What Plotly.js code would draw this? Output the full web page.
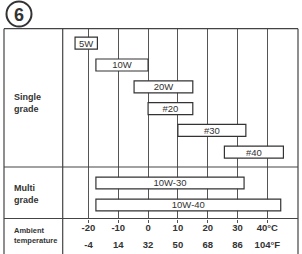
<!DOCTYPE html>
<html>
<head>
<meta charset="utf-8">
<script src="https://cdn.plot.ly/plotly-3.0.1.min.js"></script>
<style>html,body{margin:0;padding:0;background:#fff;}#chart{width:302px;height:254px;}</style>
</head>
<body>
<div id="chart"></div>
<script>
// ---- data ----
const singleGrades = ['5W', '10W', '20W', '#20', '#30', '#40'];
const singleStart  = [-24.5, -17.5, -4.7, 0, 10, 25.6];
const singleEnd    = [-17, 0, 15, 15, 32.8, 45.4];

const multiGrades = ['10W-30', '10W-40'];
const multiStart  = [-17.5, -17.5];
const multiEnd    = [32.2, 44.5];

const tempC      = [-20, -10, 0, 10, 20, 30, 40];
const tempCLabel = ['-20', '-10', '0', '10', '20', '30', '40°C'];
const tempFLabel = ['-4', '14', '32', '50', '68', '86', '104°F'];

const rowLabels = ['Single<br>grade', 'Multi<br>grade', 'Ambient<br>temperature'];
const badge = '6';

// ---- helpers ----
const W = 302, H = 254, ML = 4, MR = 4;
const px2x = p => (p - ML) / (W - ML - MR);
const px2y = p => 1 - p / H;

const ink = '#333';
const lineC = '#444';
const fontFam = 'Liberation Sans, Arial, sans-serif';

const diff = (a, b) => a.map((v, i) => b[i] - v);

const traces = [
  {
    type: 'bar', orientation: 'h',
    y: singleGrades, base: singleStart, x: diff(singleStart, singleEnd),
    text: singleGrades, textposition: 'inside', insidetextanchor: 'middle',
    constraintext: 'none', textangle: 0,
    textfont: {family: fontFam, size: 9.5, color: ink},
    marker: {color: '#fff', line: {color: ink, width: 1.2}},
    width: 0.55, xaxis: 'x', yaxis: 'y', hoverinfo: 'skip', showlegend: false
  },
  {
    type: 'bar', orientation: 'h',
    y: multiGrades, base: multiStart, x: diff(multiStart, multiEnd),
    text: multiGrades, textposition: 'inside', insidetextanchor: 'middle',
    constraintext: 'none', textangle: 0,
    textfont: {family: fontFam, size: 9.5, color: ink},
    marker: {color: '#fff', line: {color: ink, width: 1.2}},
    width: 0.53, xaxis: 'x', yaxis: 'y2', hoverinfo: 'skip', showlegend: false
  },
  {
    type: 'scatter', mode: 'none', x: [], y: [], xaxis: 'x2', yaxis: 'y2',
    hoverinfo: 'skip', showlegend: false
  }
];

const yTop = 28.7, ySep1 = 167, ySep2 = 218.5, yBot = 254;
const xRange = [(ML - 148.08) / 2.981, (W - MR - 148.08) / 2.981];

const layout = {
  width: W, height: H,
  margin: {l: ML, r: MR, t: 0, b: 0, pad: 0},
  paper_bgcolor: '#fff', plot_bgcolor: 'rgba(0,0,0,0)',
  barmode: 'overlay',
  font: {family: fontFam, color: ink},
  xaxis: {
    range: xRange, domain: [0, 1], anchor: 'free', position: px2y(ySep2),
    tickvals: tempC, ticktext: tempCLabel,
    ticks: 'outside', ticklen: 3, tickcolor: '#555', tickwidth: 1,
    ticklabelstandoff: -3,
    showgrid: true, gridcolor: '#555', gridwidth: 1,
    zeroline: false, showline: false,
    tickfont: {family: fontFam, size: 9.5, color: ink, weight: 'bold'}
  },
  xaxis2: {
    range: xRange, domain: [0, 1], matches: 'x', overlaying: 'x', anchor: 'free',
    position: px2y(237), side: 'bottom',
    tickvals: tempC, ticktext: tempFLabel,
    ticks: '', showgrid: false, zeroline: false, showline: false,
    tickfont: {family: fontFam, size: 9.5, color: ink, weight: 'bold'}
  },
  yaxis: {
    type: 'category', categoryarray: singleGrades, categoryorder: 'array',
    domain: [px2y(ySep1), px2y(yTop)], range: [5.679, -0.665], anchor: 'x',
    showticklabels: false, showgrid: false, zeroline: false, ticks: ''
  },
  yaxis2: {
    type: 'category', categoryarray: multiGrades, categoryorder: 'array',
    domain: [px2y(ySep2), px2y(ySep1)], range: [1.614, -0.727], anchor: 'x',
    showticklabels: false, showgrid: false, zeroline: false, ticks: ''
  },
  shapes: [
    {type: 'line', xref: 'paper', yref: 'paper', x0: 0, x1: 1, y0: px2y(yTop), y1: px2y(yTop), line: {color: lineC, width: 1.2}},
    {type: 'line', xref: 'paper', yref: 'paper', x0: 0, x1: 0, y0: px2y(yTop), y1: px2y(yBot), line: {color: lineC, width: 1.2}},
    {type: 'line', xref: 'paper', yref: 'paper', x0: 1, x1: 1, y0: px2y(yTop), y1: px2y(yBot), line: {color: lineC, width: 1.2}},
    {type: 'line', xref: 'paper', yref: 'paper', x0: 0, x1: 1, y0: px2y(ySep1), y1: px2y(ySep1), line: {color: lineC, width: 1.2}},
    {type: 'line', xref: 'paper', yref: 'paper', x0: 0, x1: 1, y0: px2y(ySep2), y1: px2y(ySep2), line: {color: lineC, width: 1.2}},
    {type: 'line', xref: 'paper', yref: 'paper', x0: px2x(62.7), x1: px2x(62.7), y0: px2y(yTop), y1: px2y(yBot), line: {color: lineC, width: 1.2}},
    {type: 'circle', xref: 'paper', yref: 'paper', x0: px2x(6.5), x1: px2x(31.5), y0: px2y(26.5), y1: px2y(1.5), line: {color: ink, width: 2}}
  ],
  annotations: [
    {xref: 'paper', yref: 'paper', x: px2x(19), y: px2y(14.5), text: badge, showarrow: false,
     xanchor: 'center', yanchor: 'middle', font: {family: fontFam, size: 18, color: ink, weight: 'bold'}},
    {xref: 'paper', yref: 'paper', x: px2x(12), y: px2y(103.5), text: rowLabels[0], showarrow: false,
     xanchor: 'left', yanchor: 'middle', align: 'left', font: {family: fontFam, size: 9, color: ink, weight: 'bold'}},
    {xref: 'paper', yref: 'paper', x: px2x(12), y: px2y(193.5), text: rowLabels[1], showarrow: false,
     xanchor: 'left', yanchor: 'middle', align: 'left', font: {family: fontFam, size: 9, color: ink, weight: 'bold'}},
    {xref: 'paper', yref: 'paper', x: px2x(12), y: px2y(235.5), text: rowLabels[2], showarrow: false,
     xanchor: 'left', yanchor: 'middle', align: 'left', font: {family: fontFam, size: 7.5, color: ink, weight: 'bold'}}
  ]
};

Plotly.newPlot('chart', traces, layout, {displayModeBar: false, staticPlot: true});
</script>
</body>
</html>
